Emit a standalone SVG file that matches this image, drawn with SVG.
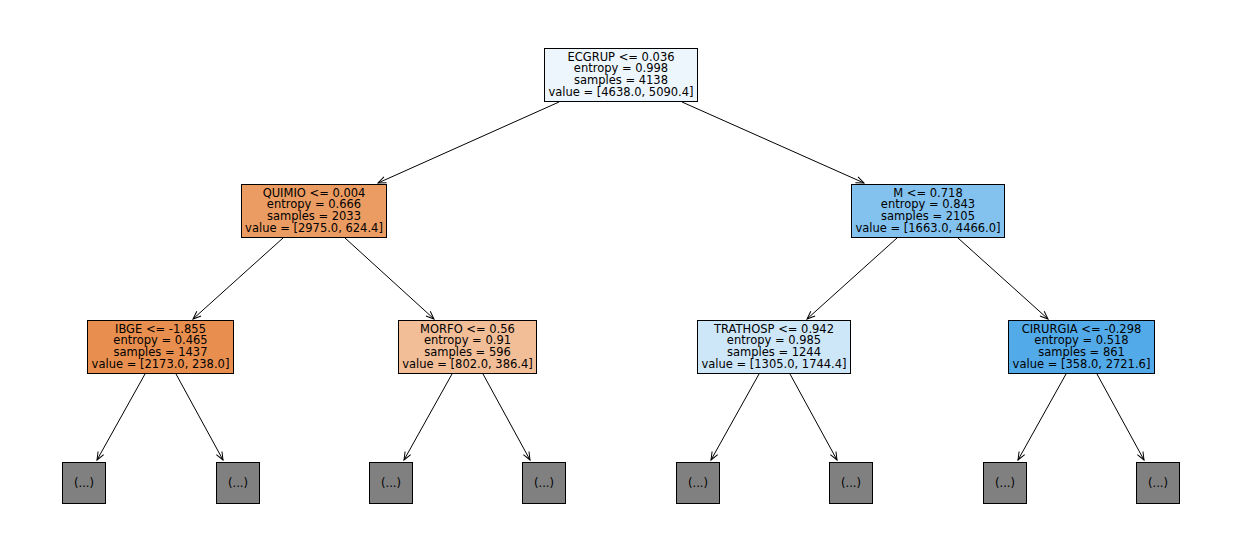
<svg xmlns="http://www.w3.org/2000/svg" width="1242" height="558" viewBox="0 0 1242 558">
<style>
.box{stroke:#000;stroke-width:1}
.t{font-family:"DejaVu Sans",sans-serif;font-size:11.5px;text-anchor:middle;fill:#000}
.e{stroke:#000;stroke-width:1;fill:none;marker-end:url(#ah)}
</style>
<defs>
<marker id="ah" markerUnits="userSpaceOnUse" markerWidth="12" markerHeight="10" viewBox="-10 -5 12 10" refX="0" refY="0" orient="auto">
<path d="M-8,-3.2 L0,0 L-8,3.2" fill="none" stroke="#000" stroke-width="1"/>
</marker>
</defs>
<rect width="1242" height="558" fill="#fff"/>
<g id="edges">
<line class="e" x1="559" y1="102" x2="378" y2="183"/>
<line class="e" x1="682" y1="102" x2="864" y2="183"/>
<line class="e" x1="283" y1="238" x2="193" y2="319"/>
<line class="e" x1="345" y1="238" x2="434" y2="319"/>
<line class="e" x1="897" y1="238" x2="807" y2="319"/>
<line class="e" x1="958" y1="238" x2="1048" y2="319"/>
<line class="e" x1="145" y1="374" x2="97" y2="460"/>
<line class="e" x1="176" y1="374" x2="223" y2="460"/>
<line class="e" x1="452" y1="374" x2="404" y2="460"/>
<line class="e" x1="483" y1="374" x2="530" y2="460"/>
<line class="e" x1="759" y1="374" x2="711" y2="460"/>
<line class="e" x1="790" y1="374" x2="837" y2="460"/>
<line class="e" x1="1066" y1="374" x2="1018" y2="460"/>
<line class="e" x1="1097" y1="374" x2="1144" y2="460"/>
</g>
<g id="n0">
<rect class="box" x="544.5" y="48.5" width="153" height="53" fill="#edf6fd"/>
<text class="t" x="621" y="60.5">ECGRUP &lt;= 0.036</text>
<text class="t" x="621" y="72.2">entropy = 0.998</text>
<text class="t" x="621" y="83.9">samples = 4138</text>
<text class="t" x="621" y="95.6">value = [4638.0, 5090.4]</text>
</g>
<g id="n1">
<rect class="box" x="241.5" y="184.5" width="145" height="53" fill="#eb9c63"/>
<text class="t" x="314" y="196.5">QUIMIO &lt;= 0.004</text>
<text class="t" x="314" y="208.2">entropy = 0.666</text>
<text class="t" x="314" y="219.9">samples = 2033</text>
<text class="t" x="314" y="231.6">value = [2975.0, 624.4]</text>
</g>
<g id="n2">
<rect class="box" x="851.5" y="184.5" width="153" height="53" fill="#83c2ef"/>
<text class="t" x="928" y="196.5">M &lt;= 0.718</text>
<text class="t" x="928" y="208.2">entropy = 0.843</text>
<text class="t" x="928" y="219.9">samples = 2105</text>
<text class="t" x="928" y="231.6">value = [1663.0, 4466.0]</text>
</g>
<g id="n3">
<rect class="box" x="87.5" y="320.5" width="146" height="53" fill="#e88f4f"/>
<text class="t" x="160.5" y="332.5">IBGE &lt;= -1.855</text>
<text class="t" x="160.5" y="344.2">entropy = 0.465</text>
<text class="t" x="160.5" y="355.9">samples = 1437</text>
<text class="t" x="160.5" y="367.6">value = [2173.0, 238.0]</text>
</g>
<g id="n4">
<rect class="box" x="398.5" y="320.5" width="138" height="53" fill="#f2be98"/>
<text class="t" x="467.5" y="332.5">MORFO &lt;= 0.56</text>
<text class="t" x="467.5" y="344.2">entropy = 0.91</text>
<text class="t" x="467.5" y="355.9">samples = 596</text>
<text class="t" x="467.5" y="367.6">value = [802.0, 386.4]</text>
</g>
<g id="n5">
<rect class="box" x="697.5" y="320.5" width="153" height="53" fill="#cde6f8"/>
<text class="t" x="774" y="332.5">TRATHOSP &lt;= 0.942</text>
<text class="t" x="774" y="344.2">entropy = 0.985</text>
<text class="t" x="774" y="355.9">samples = 1244</text>
<text class="t" x="774" y="367.6">value = [1305.0, 1744.4]</text>
</g>
<g id="n6">
<rect class="box" x="1008.5" y="320.5" width="146" height="53" fill="#53aae8"/>
<text class="t" x="1081.5" y="332.5">CIRURGIA &lt;= -0.298</text>
<text class="t" x="1081.5" y="344.2">entropy = 0.518</text>
<text class="t" x="1081.5" y="355.9">samples = 861</text>
<text class="t" x="1081.5" y="367.6">value = [358.0, 2721.6]</text>
</g>
<g id="l0"><rect class="box" x="62.5" y="462.5" width="43" height="41" fill="#808080"/><text class="t" x="84" y="487">(...)</text></g>
<g id="l1"><rect class="box" x="216.5" y="462.5" width="43" height="41" fill="#808080"/><text class="t" x="238" y="487">(...)</text></g>
<g id="l2"><rect class="box" x="369.5" y="462.5" width="43" height="41" fill="#808080"/><text class="t" x="391" y="487">(...)</text></g>
<g id="l3"><rect class="box" x="522.5" y="462.5" width="43" height="41" fill="#808080"/><text class="t" x="544" y="487">(...)</text></g>
<g id="l4"><rect class="box" x="676.5" y="462.5" width="43" height="41" fill="#808080"/><text class="t" x="698" y="487">(...)</text></g>
<g id="l5"><rect class="box" x="829.5" y="462.5" width="43" height="41" fill="#808080"/><text class="t" x="851" y="487">(...)</text></g>
<g id="l6"><rect class="box" x="983.5" y="462.5" width="43" height="41" fill="#808080"/><text class="t" x="1005" y="487">(...)</text></g>
<g id="l7"><rect class="box" x="1136.5" y="462.5" width="43" height="41" fill="#808080"/><text class="t" x="1158" y="487">(...)</text></g>
</svg>
